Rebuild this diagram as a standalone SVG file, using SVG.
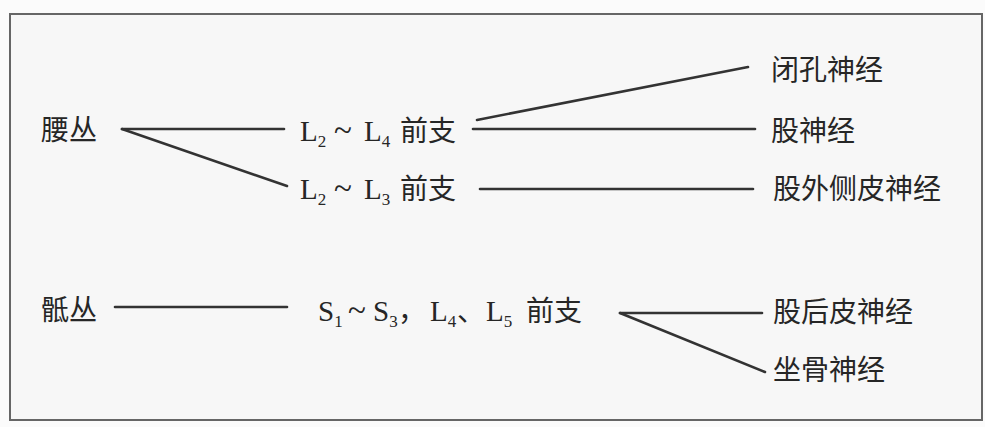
<svg xmlns="http://www.w3.org/2000/svg" width="985" height="427" viewBox="0 0 985 427">
<style>
.cjk{font-family:"Noto Sans CJK SC","Noto Sans",sans-serif;font-size:28px;fill:#262626}
.lat{font-family:"Liberation Serif","Noto Sans CJK SC",serif;font-size:29px;fill:#262626}
.sub{font-size:17px}
.til{font-size:33px}
.conn line{stroke:#333;stroke-width:2.6;stroke-linecap:round}
</style>
<rect x="0" y="0" width="985" height="427" fill="#fbfbfb"/>
<rect x="10" y="14" width="972" height="406" fill="#f7f7f7" stroke="#666" stroke-width="2"/>
<g id="n-yaocong"><text class="cjk" x="41" y="140">腰丛</text></g>
<g id="n-l2l4"><text class="lat" x="300" y="141">L<tspan class="sub" dy="6">2</tspan><tspan class="til" x="334" dy="-6">~</tspan><tspan x="364">L</tspan><tspan class="sub" dy="6">4</tspan><tspan class="cjk" x="400" dy="-6">前支</tspan></text></g>
<g id="n-l2l3"><text class="lat" x="300" y="199">L<tspan class="sub" dy="6">2</tspan><tspan class="til" x="334" dy="-6">~</tspan><tspan x="364">L</tspan><tspan class="sub" dy="6">3</tspan><tspan class="cjk" x="400" dy="-6">前支</tspan></text></g>
<g id="n-bikong"><text class="cjk" x="771" y="80">闭孔神经</text></g>
<g id="n-gu"><text class="cjk" x="771" y="141">股神经</text></g>
<g id="n-guwaice"><text class="cjk" x="773" y="199">股外侧皮神经</text></g>
<g id="n-dicong"><text class="cjk" x="41" y="320">骶丛</text></g>
<g id="n-s1s3"><text class="lat" x="318" y="321">S<tspan class="sub" dy="6">1</tspan><tspan class="til" x="348" dy="-6">~</tspan><tspan x="373">S</tspan><tspan class="sub" dy="6">3</tspan><tspan class="cjk" x="398" dy="-6">，</tspan><tspan x="430">L</tspan><tspan class="sub" dy="6">4</tspan><tspan class="cjk" x="457" dy="-6">、</tspan><tspan x="486">L</tspan><tspan class="sub" dy="6">5</tspan><tspan class="cjk" x="526" dy="-6">前支</tspan></text></g>
<g id="n-guhoupi"><text class="cjk" x="773" y="322">股后皮神经</text></g>
<g id="n-zuogu"><text class="cjk" x="773" y="380">坐骨神经</text></g>
<g id="connectors" class="conn">
<line x1="122" y1="129" x2="284" y2="129"/>
<line x1="122" y1="129" x2="287" y2="186"/>
<line x1="477" y1="120" x2="748" y2="67"/>
<line x1="473" y1="129" x2="755" y2="129"/>
<line x1="480" y1="189" x2="753" y2="189"/>
<line x1="115" y1="307" x2="287" y2="307"/>
<line x1="620" y1="313" x2="762" y2="313"/>
<line x1="620" y1="313" x2="765" y2="372"/>
</g>
</svg>
